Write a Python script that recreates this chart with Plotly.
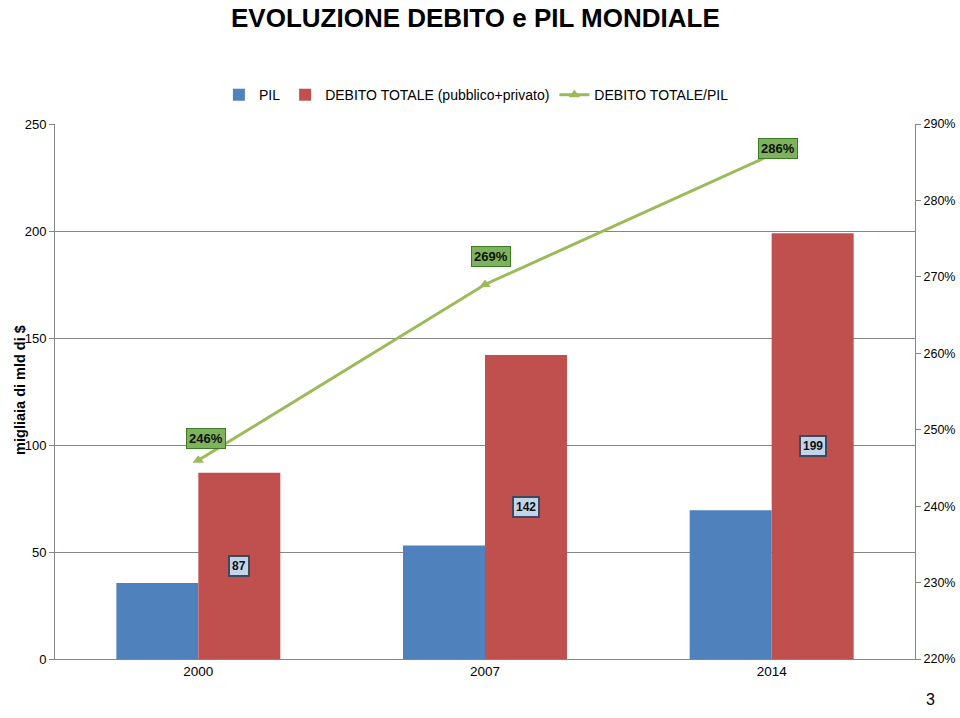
import plotly.graph_objects as go

years = ["2000", "2007", "2014"]
pil = [35.5, 53, 69.5]
debito = [87, 142, 199]
ratio = [246, 269, 286]
ratio_labels = ["246%", "269%", "286%"]
debito_labels = ["87", "142", "199"]

FONT = "Liberation Sans"

fig = go.Figure()
fig.add_trace(go.Bar(x=years, y=pil, name="PIL", marker=dict(color="#4F81BD", line=dict(width=0))))
fig.add_trace(go.Bar(x=years, y=debito, name="DEBITO TOTALE (pubblico+privato)",
                     marker=dict(color="#C0504D", line=dict(width=0))))
fig.add_trace(go.Scatter(x=years, y=ratio, name="DEBITO TOTALE/PIL", yaxis="y2",
                         mode="lines+markers",
                         line=dict(color="#9BBB59", width=3),
                         marker=dict(symbol="triangle-up", size=10, color="#9BBB59")))

annotations = []
# debt labels centered on the red bars (x given as category index)
for i, (v, t) in enumerate(zip(debito, debito_labels)):
    annotations.append(dict(x=i, y=v / 2, xref="x", yref="y", text="<b>" + t + "</b>",
                            showarrow=False, xshift=41,
                            font=dict(family=FONT, size=12, color="#111111"),
                            bgcolor="#c3d3ea", bordercolor="#3e4a5c", borderwidth=2, borderpad=2))
# ratio labels
shifts = [(8, 22), (6, 28), (6, 6)]
for i, ((xs, ys), v, t) in enumerate(zip(shifts, ratio, ratio_labels)):
    annotations.append(dict(x=i, y=v, xref="x", yref="y2", text="<b>" + t + "</b>",
                            showarrow=False, xshift=xs, yshift=ys,
                            font=dict(family=FONT, size=13, color="#111111"),
                            bgcolor="#7db35a", bordercolor="#3c7a26", borderwidth=1, borderpad=2))
# title
annotations.append(dict(x=0.5, y=1, xref="paper", yref="paper", xshift=-10, yshift=106,
                        text="<b>EVOLUZIONE DEBITO e PIL MONDIALE</b>", showarrow=False,
                        font=dict(family=FONT, size=26, color="#000000"),
                        yanchor="middle"))
# y axis title
annotations.append(dict(x=0, y=0.503, xref="paper", yref="paper", xshift=-45,
                        text="<b>migliaia di mld di $</b>", textangle=-90, showarrow=False,
                        font=dict(family=FONT, size=14.5, color="#000000")))
# page number
annotations.append(dict(x=1, y=0, xref="paper", yref="paper", xshift=22, yshift=-51,
                        text="3", showarrow=False,
                        font=dict(family=FONT, size=16, color="#000000")))

fig.update_layout(
    width=960, height=718,
    margin=dict(l=55, r=45, t=124, b=59, autoexpand=False),
    paper_bgcolor="white", plot_bgcolor="white",
    barmode="group", bargap=0.428, bargroupgap=0,
    font=dict(family=FONT, size=12, color="#000000"),
    legend=dict(orientation="h", x=0.49, xanchor="center", y=1.054, yanchor="middle",
                font=dict(family=FONT, size=14), traceorder="normal"),
    xaxis=dict(type="category", range=[-0.5, len(years) - 0.5], showline=True,
               linecolor="#868686", linewidth=1, ticks="",
               showgrid=False, tickfont=dict(size=13.5), automargin=False),
    yaxis=dict(range=[0, 250], dtick=50, showline=True, linecolor="#868686", linewidth=1,
               ticks="outside", ticklen=5, tickcolor="#868686",
               showgrid=True, gridcolor="#868686", gridwidth=1, zeroline=False,
               tickfont=dict(size=13), automargin=False),
    yaxis2=dict(range=[220, 290], dtick=10, overlaying="y", side="right", ticksuffix="%",
                showline=True, linecolor="#868686", linewidth=1, ticks="outside", ticklen=5,
                tickcolor="#868686", showgrid=False, zeroline=False, tickfont=dict(size=12.5),
                automargin=False),
    annotations=annotations,
)

fig.write_html("out.html", config={"displayModeBar": False},
               post_script="document.body.style.margin='0';document.body.style.padding='0';")
